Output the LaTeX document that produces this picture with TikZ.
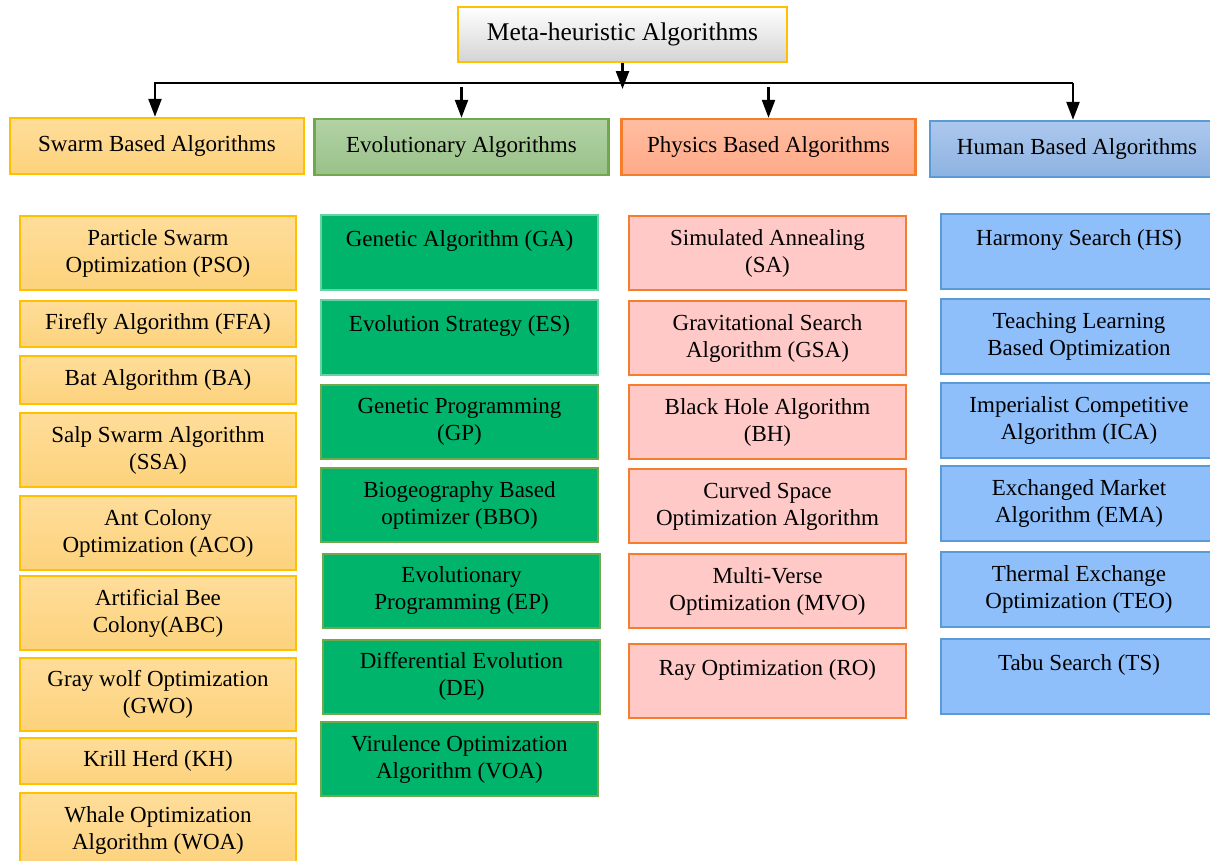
\documentclass[tikz,border=0pt]{standalone}
\usepackage{fontspec}
\setmainfont{Liberation Serif}
\usetikzlibrary{arrows.meta}

\definecolor{metaline}{HTML}{FFC000}
\definecolor{swarmline}{HTML}{FFC000}
\definecolor{swarmtop}{HTML}{FFDD9A}
\definecolor{swarmbot}{HTML}{FCD27C}
\definecolor{evoline}{HTML}{6FA94B}
\definecolor{evotop}{HTML}{B3D2A6}
\definecolor{evobot}{HTML}{99C188}
\definecolor{evofill}{HTML}{00B46B}
\definecolor{evomint}{HTML}{66D3A3}
\definecolor{physline}{HTML}{F47D2E}
\definecolor{phystop}{HTML}{FFBDA1}
\definecolor{physbot}{HTML}{FFAA88}
\definecolor{physfill}{HTML}{FFC9C7}
\definecolor{humline}{HTML}{5B9BD5}
\definecolor{humtop}{HTML}{ADC8EE}
\definecolor{humbot}{HTML}{8DB2E0}
\definecolor{humfill}{HTML}{8EBFFB}

\tikzset{
    box/.style={draw, line width=2pt, align=center, inner sep=0pt,
        font=\fontsize{23}{27}\selectfont},
    headbox/.style={box, line width=2.4pt, minimum width=294pt, minimum height=56pt},
    swarmbox/.style={box, draw=swarmline, top color=swarmtop, bottom color=swarmbot, minimum width=276pt},
    evobox/.style={box, draw=evoline, fill=evofill, minimum width=277pt},
    physbox/.style={box, draw=physline, fill=physfill, minimum width=277pt},
    humbox/.style={box, draw=humline, fill=humfill, minimum width=276pt},
    arr/.style={line width=2.4pt, -{Triangle[length=18pt,width=13pt]}}
}

\begin{document}
\begin{tikzpicture}[x=1pt, y=-1pt]
            \path[use as bounding box, clip] (0,0) rectangle (1210,860);

            % root and the four families
            \node[box, line width=2.4pt, draw=metaline, top color=white, bottom color=black!17,
                minimum width=329pt, minimum height=55pt, font=\fontsize{25.5}{29}\selectfont]
                (meta) at (622.5,34.5) {Meta-heuristic Algorithms};
            \node[headbox, draw=swarmline, top color=swarmtop, bottom color=swarmbot] (swarm) at (157,146) {Swarm Based Algorithms};
            \node[headbox, draw=evoline, top color=evotop, bottom color=evobot] (evo) at (461.5,147) {Evolutionary Algorithms};
            \node[headbox, draw=physline, top color=phystop, bottom color=physbot] (phys) at (768.5,147) {Physics Based Algorithms};
            \node[headbox, draw=humline, top color=humtop, bottom color=humbot] (human) at (1077,149) {Human Based Algorithms};

            \coordinate (hub) at (622.5,89);
            \coordinate (busL) at (155,83);
            \coordinate (busR) at (1073,83);
            \coordinate (evoTop) at (461.5,87);
            \coordinate (physTop) at (768.5,87);

            \draw[arr] (meta.south) -- (hub);
            \draw[arr] (busR) -- (busL) -- (busL |- swarm.north);
            \draw[arr] (busR) -- (busR |- human.north);
            \draw[arr] (evoTop) -- (evo.north);
            \draw[arr] (physTop) -- (phys.north);

            % swarm column
            \foreach \n/\y/\h/\t in {pso/253/74/{Particle Swarm\\Optimization (PSO)},
                                     ffa/324/46/{Firefly Algorithm (FFA)},
                                     ba/380/48/{Bat Algorithm (BA)},
                                     ssa/450/74/{Salp Swarm Algorithm\\(SSA)},
                                     aco/533/74/{Ant Colony\\Optimization (ACO)},
                                     abc/613/74/{Artificial Bee\\Colony(ABC)},
                                     gwo/694.5/73/{Gray wolf Optimization\\(GWO)},
                                     kh/761/46/{Krill Herd (KH)},
                                     woa/830/74/{Whale Optimization\\Algorithm (WOA)}}
                \node[swarmbox, minimum height=\h] (\n) at (158,\y) {\t};

            % evolutionary column
            \foreach \n/\x/\y/\t in {gp/459.5/422/{Genetic Programming\\(GP)},
                                     bbo/459.5/505/{Biogeography Based\\optimizer (BBO)},
                                     ep/461.5/590.5/{Evolutionary\\Programming (EP)},
                                     de/461.5/676.5/{Differential Evolution\\(DE)},
                                     voa/459.5/759/{Virulence Optimization\\Algorithm (VOA)}}
                \node[evobox, minimum height=74] (\n) at (\x,\y) {\t};
            \node[evobox, draw=evomint, minimum height=75] (ga) at (459.5,252.5) {Genetic Algorithm (GA)\\~};
            \node[evobox, draw=evomint, minimum height=75] (es) at (459.5,337.5) {Evolution Strategy (ES)\\~};

            % physics column
            \foreach \n/\y/\t in {sa/253/{Simulated Annealing\\(SA)},
                                  gsa/338/{Gravitational Search\\Algorithm (GSA)},
                                  bh/422/{Black Hole Algorithm\\(BH)},
                                  csoa/506/{Curved Space\\Optimization Algorithm},
                                  mvo/591/{Multi-Verse\\Optimization (MVO)},
                                  ro/681/{Ray Optimization (RO)\\~}}
                \node[physbox, minimum height=74] (\n) at (767.5,\y) {\t};

            % human column
            \foreach \n/\y/\t in {hs/251/{Harmony Search (HS)\\~},
                                  tlbo/336/{Teaching Learning\\Based Optimization},
                                  ica/420.5/{Imperialist Competitive\\Algorithm (ICA)},
                                  ema/503.5/{Exchanged Market\\Algorithm (EMA)},
                                  teo/589.5/{Thermal Exchange\\Optimization (TEO)},
                                  ts/676.5/{Tabu Search (TS)\\~}}
                \node[humbox, minimum height=75] (\n) at (1079,\y) {\t};
        \end{tikzpicture}
\end{document}
